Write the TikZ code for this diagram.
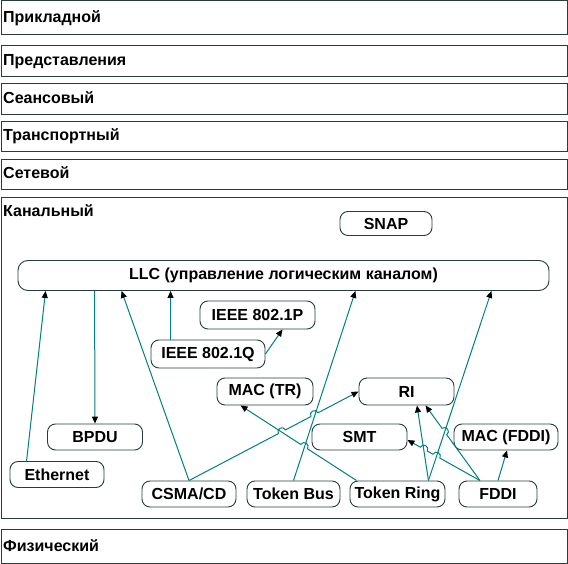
\documentclass[tikz,border=0pt]{standalone}
\usepackage{fontspec}
\setmainfont{Liberation Sans}
\usetikzlibrary{arrows.meta,calc}
\definecolor{lnteal}{RGB}{0,128,128}
\definecolor{boxline}{RGB}{40,60,60}
\begin{document}
\begin{tikzpicture}[x=1pt,y=-1pt,
  layer/.style={draw=boxline, line width=1pt, inner sep=0pt, anchor=north west, minimum width=565.5pt},
  lbl/.style={anchor=base west, inner sep=0pt, font=\fontsize{16}{19}\selectfont\bfseries},
  blk/.style={draw=boxline, line width=0.9pt, rounded corners=8pt, inner sep=0pt, minimum height=26pt, font=\fontsize{16}{19}\selectfont\bfseries},
  link/.style={draw=lnteal, line width=1pt, -{Triangle[length=7pt,width=6pt,color=black]}},
  hopl/.style={bend left=90, looseness=1.7},
  hopr/.style={bend right=90, looseness=1.7}]
\useasboundingbox (0,0) rectangle (568,564);
\fill[white] (0,0) rectangle (568,564);
% layers
\node[layer, minimum height=33.5pt] (l7) at (1,0.5) {};
\node[layer, minimum height=30.5pt] (l6) at (1,45.5) {};
\node[layer, minimum height=30.5pt] (l5) at (1,83.5) {};
\node[layer, minimum height=30pt] (l4) at (1,121.5) {};
\node[layer, minimum height=30pt] (l3) at (1,159) {};
\node[layer, minimum height=321pt] (l2) at (1,197) {};
\node[layer, minimum height=34pt] (l1) at (1,529) {};
\node[lbl] (t7) at (3,23) {Прикладной};
\node[lbl] (t6) at (3,66) {Представления};
\node[lbl] (t5) at (3,103.5) {Сеансовый};
\node[lbl] (t4) at (3,141) {Транспортный};
\node[lbl] (t3) at (3,179) {Сетевой};
\node[lbl] (t2) at (3,216.5) {Канальный};
\node[lbl] (t1) at (3,551) {Физический};
% blocks
\node[blk, minimum width=92pt, minimum height=24pt] (snap) at (386,223.5) {SNAP};
\node[blk, minimum width=531pt, minimum height=30pt, rounded corners=10pt] (llc) at (283.5,275.5) {LLC (управление логическим каналом)};
\node[blk, minimum width=115pt, minimum height=28pt] (p) at (257.5,315) {IEEE 802.1P};
\node[blk, minimum width=114pt, minimum height=28pt] (q) at (208,354) {IEEE 802.1Q};
\node[blk, minimum width=96pt, minimum height=27pt] (mactr) at (265,391.5) {MAC (TR)};
\node[blk, minimum width=95pt, minimum height=27pt] (ri) at (406.5,391.5) {RI};
\node[blk, minimum width=95pt] (bpdu) at (95,437) {BPDU};
\node[blk, minimum width=95pt] (smt) at (359.5,437) {SMT};
\node[blk, minimum width=104pt] (macf) at (506,437) {MAC (FDDI)};
\node[blk, minimum width=94pt] (eth) at (57,474.5) {Ethernet};
\node[blk, minimum width=94pt] (csma) at (189,494) {CSMA/CD};
\node[blk, minimum width=93pt] (tb) at (293.5,494) {Token Bus};
\node[blk, minimum width=95pt] (tr) at (397.5,494) {Token Ring};
\node[blk, minimum width=78pt] (fddi) at (498,494) {FDDI};
% anchor points
\coordinate (trA) at ([xshift=-17pt]tr.north east);
\coordinate (trB) at ([xshift=7pt]tr.north west);
\coordinate (fA) at ([xshift=-18pt]fddi.north);
\coordinate (mtrB) at ([xshift=24pt]mactr.south west);
\coordinate (riB1) at ([xshift=10.5pt]ri.south);
\coordinate (riB2) at ([xshift=19pt]ri.south);
\coordinate (smtB) at ([yshift=-3pt]smt.east);
% connectors
\draw[link] ([xshift=17pt]eth.north west) -- ([xshift=28pt]llc.south west);
\draw[link] ([xshift=77pt]llc.south west) -- (bpdu.north);
\draw[link] (csma.north) -- ([xshift=104pt]llc.south west);
\draw[link] ([xshift=20pt]q.north west) -- ([xshift=153pt]llc.south west);
\draw[link] (q.east) -- ([xshift=-33pt]p.south east);
\draw[link] (tb.north) -- ([xshift=-194pt]llc.south east);
\draw[link] (csma.north) -- ($(csma.north)!0.527!(ri.west)$) to[hopl] ($(csma.north)!0.569!(ri.west)$)
  -- ($(csma.north)!0.719!(ri.west)$) to[hopl] ($(csma.north)!0.761!(ri.west)$) -- (ri.west);
\draw[link] (trB) -- ($(trB)!0.423!(mtrB)$) to[hopr] ($(trB)!0.481!(mtrB)$) -- (mtrB);
\draw[link] (trA) -- (riB1);
\draw[link] (trA) -- ([xshift=-58pt]llc.south east);
\draw[link] (fA) -- ($(fA)!0.61!(riB2)$) to[hopr] ($(fA)!0.696!(riB2)$) -- (riB2);
\draw[link] (fA) -- ($(fA)!0.553!(smtB)$) to[hopr] ($(fA)!0.649!(smtB)$)
  -- ($(fA)!0.727!(smtB)$) to[hopr] ($(fA)!0.823!(smtB)$) -- (smtB);
\draw[link] (fddi.north) -- ([xshift=1pt]macf.south);
\end{tikzpicture}
\end{document}
